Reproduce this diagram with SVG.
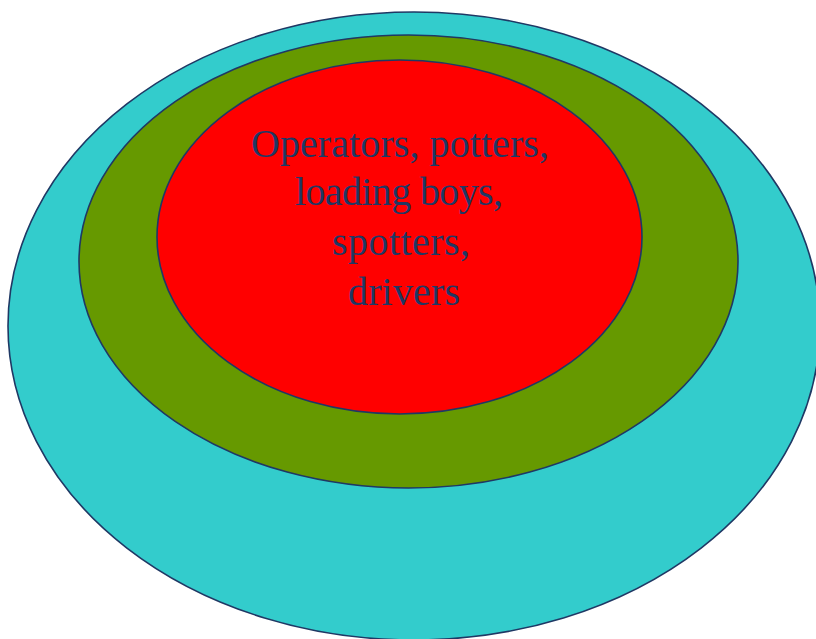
<svg xmlns="http://www.w3.org/2000/svg" width="816" height="639" viewBox="0 0 816 639">
<style>
.ring{stroke:#1F3864;stroke-width:1.6}
.lbl{font-family:"Liberation Serif","DejaVu Serif",serif;font-size:40px;fill:#1F3864;text-anchor:middle}
</style>
<rect width="816" height="639" fill="#ffffff"/>
<g id="outer"><ellipse class="ring" cx="414" cy="326" rx="406" ry="314" fill="#33CCCC"/></g>
<g id="middle"><ellipse class="ring" cx="408.5" cy="261.5" rx="329.5" ry="226.5" fill="#669900"/></g>
<g id="inner">
<ellipse class="ring" cx="399.5" cy="237" rx="242.5" ry="177" fill="#FF0000"/>
<text class="lbl" x="400" y="157" textLength="298">Operators, potters,</text>
<text class="lbl" x="399" y="205" textLength="208">loading boys,</text>
<text class="lbl" x="401" y="255" textLength="138">spotters,</text>
<text class="lbl" x="404" y="305" textLength="112">drivers</text>
</g>
<g id="connectors"/>
</svg>
